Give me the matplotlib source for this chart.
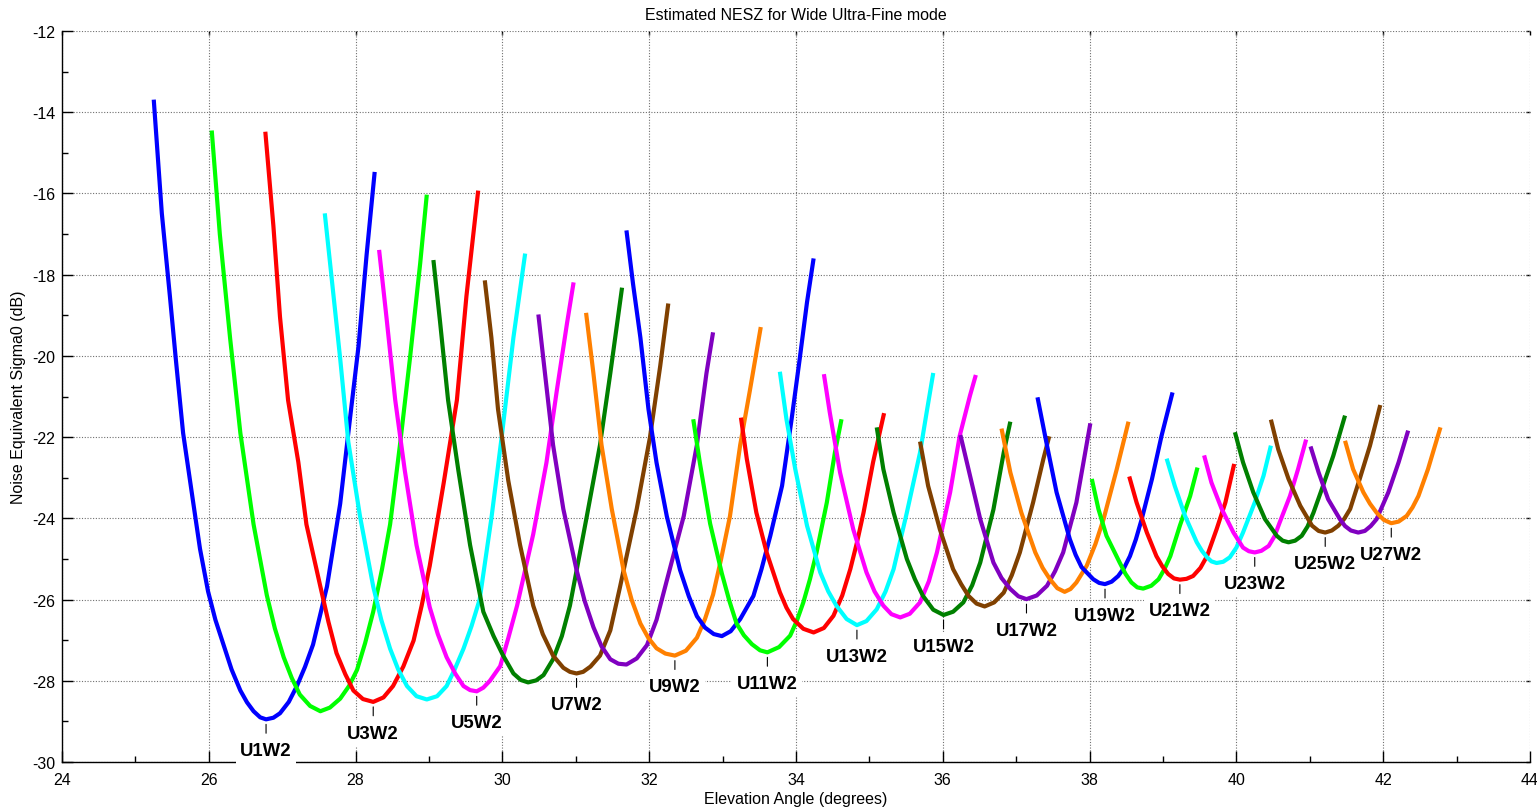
import matplotlib
matplotlib.use("Agg")
import matplotlib.pyplot as plt
from matplotlib.ticker import MultipleLocator

plt.rcParams["font.family"] = ["Liberation Sans", "DejaVu Sans"]
plt.rcParams["axes.unicode_minus"] = False

# ---- NESZ curves per beam: elevation angle (deg) and NESZ (dB) ----
U1_elev = [25.25, 25.36, 25.47, 25.55, 25.65, 25.79, 25.88, 25.99, 26.09, 26.20, 26.31, 26.43, 26.52, 26.61, 26.70, 26.78, 26.88, 26.97, 27.09, 27.20, 27.31, 27.42, 27.61, 27.79, 27.92, 28.04, 28.15, 28.26]
U1_nesz = [-13.69, -16.49, -18.53, -20.07, -21.90, -23.64, -24.75, -25.80, -26.50, -27.11, -27.72, -28.24, -28.53, -28.75, -28.90, -28.95, -28.91, -28.80, -28.52, -28.13, -27.66, -27.11, -25.68, -23.64, -21.60, -19.76, -17.51, -15.47]

U2_elev = [26.04, 26.15, 26.29, 26.43, 26.61, 26.79, 26.90, 27.02, 27.13, 27.24, 27.38, 27.52, 27.65, 27.79, 27.91, 28.02, 28.13, 28.24, 28.36, 28.47, 28.61, 28.74, 28.88, 28.97]
U2_nesz = [-14.45, -17.00, -19.56, -21.90, -24.15, -25.89, -26.71, -27.42, -27.93, -28.34, -28.62, -28.75, -28.66, -28.44, -28.13, -27.73, -27.07, -26.30, -25.25, -24.15, -22.11, -20.07, -17.72, -16.03]

U3_elev = [26.77, 26.88, 26.97, 27.08, 27.22, 27.33, 27.52, 27.63, 27.74, 27.86, 27.97, 28.10, 28.24, 28.38, 28.51, 28.65, 28.79, 28.90, 29.01, 29.20, 29.38, 29.51, 29.67]
U3_nesz = [-14.48, -16.80, -19.04, -21.09, -22.62, -24.15, -25.68, -26.55, -27.32, -27.84, -28.24, -28.45, -28.52, -28.41, -28.13, -27.65, -27.01, -26.15, -25.17, -23.13, -21.09, -18.53, -15.93]

U4_elev = [27.58, 27.67, 27.79, 27.90, 28.06, 28.24, 28.35, 28.47, 28.58, 28.70, 28.83, 28.97, 29.11, 29.24, 29.35, 29.47, 29.58, 29.69, 29.85, 29.99, 30.15, 30.31]
U4_nesz = [-16.49, -18.02, -20.07, -22.11, -23.95, -25.68, -26.50, -27.21, -27.72, -28.13, -28.38, -28.46, -28.38, -28.13, -27.72, -27.21, -26.65, -26.00, -24.00, -22.00, -19.55, -17.48]

U5_elev = [28.32, 28.42, 28.54, 28.67, 28.83, 29.01, 29.12, 29.24, 29.36, 29.47, 29.56, 29.65, 29.74, 29.83, 29.97, 30.08, 30.20, 30.42, 30.60, 30.74, 30.88, 30.97]
U5_nesz = [-17.39, -19.04, -21.09, -22.82, -24.66, -26.19, -26.85, -27.42, -27.83, -28.13, -28.23, -28.26, -28.17, -28.00, -27.64, -26.95, -26.15, -24.39, -22.63, -20.87, -19.20, -18.19]

U6_elev = [29.06, 29.15, 29.26, 29.40, 29.56, 29.74, 29.88, 30.01, 30.15, 30.25, 30.35, 30.46, 30.56, 30.69, 30.81, 30.92, 31.03, 31.15, 31.33, 31.47, 31.63]
U6_nesz = [-17.64, -19.15, -21.09, -22.82, -24.66, -26.30, -26.90, -27.38, -27.82, -27.98, -28.04, -27.99, -27.86, -27.47, -26.90, -26.15, -25.10, -23.95, -22.19, -20.43, -18.32]

U7_elev = [29.76, 29.85, 29.94, 30.08, 30.24, 30.42, 30.55, 30.69, 30.83, 30.92, 31.01, 31.10, 31.20, 31.33, 31.47, 31.60, 31.83, 32.01, 32.15, 32.26]
U7_nesz = [-18.14, -19.55, -21.31, -23.07, -24.65, -26.15, -26.85, -27.38, -27.68, -27.78, -27.82, -27.78, -27.65, -27.38, -26.76, -25.71, -23.77, -22.01, -20.25, -18.71]

U8_elev = [30.49, 30.58, 30.69, 30.83, 31.01, 31.12, 31.24, 31.35, 31.47, 31.58, 31.69, 31.83, 31.97, 32.10, 32.24, 32.47, 32.65, 32.78, 32.87]
U8_nesz = [-18.98, -20.43, -22.19, -23.77, -25.27, -26.03, -26.68, -27.15, -27.47, -27.58, -27.60, -27.45, -27.12, -26.50, -25.53, -23.95, -22.19, -20.43, -19.42]

U9_elev = [31.14, 31.24, 31.35, 31.49, 31.65, 31.76, 31.88, 31.99, 32.10, 32.22, 32.35, 32.50, 32.65, 32.76, 32.87, 32.98, 33.10, 33.24, 33.37, 33.52]
U9_nesz = [-18.94, -20.43, -22.19, -23.77, -25.27, -26.00, -26.59, -26.95, -27.20, -27.33, -27.38, -27.26, -26.94, -26.48, -25.88, -25.00, -23.95, -22.19, -20.87, -19.29]

U10_elev = [31.69, 31.78, 31.88, 31.99, 32.10, 32.24, 32.42, 32.54, 32.65, 32.76, 32.88, 32.99, 33.11, 33.24, 33.42, 33.53, 33.65, 33.81, 33.94, 34.05, 34.15, 34.24]
U10_nesz = [-16.91, -18.23, -19.55, -21.31, -22.63, -23.95, -25.27, -25.92, -26.41, -26.69, -26.85, -26.90, -26.78, -26.48, -25.91, -25.25, -24.43, -23.20, -21.56, -20.08, -18.68, -17.60]

U11_elev = [32.60, 32.69, 32.83, 32.99, 33.09, 33.19, 33.29, 33.40, 33.51, 33.61, 33.77, 33.92, 34.01, 34.10, 34.19, 34.28, 34.42, 34.53, 34.62]
U11_nesz = [-21.56, -22.63, -24.13, -25.36, -26.02, -26.59, -26.88, -27.10, -27.25, -27.30, -27.17, -26.89, -26.53, -26.07, -25.50, -24.84, -23.61, -22.38, -21.56]

U12_elev = [33.25, 33.33, 33.46, 33.60, 33.78, 33.87, 33.96, 34.10, 34.24, 34.38, 34.51, 34.63, 34.74, 34.83, 34.92, 35.05, 35.20]
U12_nesz = [-21.52, -22.54, -23.86, -24.84, -25.82, -26.20, -26.48, -26.72, -26.81, -26.70, -26.40, -25.90, -25.25, -24.60, -23.86, -22.62, -21.41]

U13_elev = [33.78, 33.87, 33.99, 34.15, 34.33, 34.44, 34.55, 34.69, 34.83, 34.96, 35.10, 35.22, 35.33, 35.51, 35.69, 35.78, 35.87]
U13_nesz = [-20.39, -21.56, -22.79, -24.18, -25.33, -25.80, -26.15, -26.48, -26.63, -26.53, -26.24, -25.80, -25.25, -23.86, -22.38, -21.39, -20.42]

U14_elev = [34.38, 34.46, 34.60, 34.78, 34.96, 35.07, 35.19, 35.30, 35.42, 35.55, 35.69, 35.81, 35.92, 36.10, 36.23, 36.37, 36.45]
U14_nesz = [-20.45, -21.39, -22.87, -24.27, -25.33, -25.80, -26.15, -26.36, -26.44, -26.35, -26.07, -25.55, -24.84, -23.36, -21.97, -20.98, -20.47]

U15_elev = [35.10, 35.19, 35.33, 35.51, 35.62, 35.73, 35.87, 36.01, 36.14, 36.28, 36.40, 36.51, 36.69, 36.83, 36.92]
U15_nesz = [-21.76, -22.79, -23.86, -25.00, -25.50, -25.91, -26.25, -26.38, -26.30, -26.07, -25.65, -25.09, -23.78, -22.38, -21.62]

U16_elev = [35.69, 35.80, 35.96, 36.14, 36.25, 36.35, 36.46, 36.57, 36.70, 36.83, 36.94, 37.05, 37.23, 37.37, 37.45]
U16_nesz = [-22.11, -23.20, -24.27, -25.25, -25.62, -25.91, -26.10, -26.17, -26.07, -25.83, -25.40, -24.84, -23.61, -22.54, -21.98]

U17_elev = [36.24, 36.35, 36.51, 36.69, 36.80, 36.92, 37.03, 37.14, 37.28, 37.42, 37.53, 37.64, 37.82, 37.94, 38.01]
U17_nesz = [-21.95, -22.79, -24.02, -25.09, -25.47, -25.74, -25.92, -25.99, -25.90, -25.66, -25.30, -24.84, -23.61, -22.38, -21.66]

U18_elev = [36.80, 36.92, 37.07, 37.26, 37.36, 37.46, 37.56, 37.66, 37.74, 37.82, 37.96, 38.08, 38.19, 38.37, 38.53]
U18_nesz = [-21.79, -22.87, -23.86, -24.84, -25.22, -25.50, -25.72, -25.81, -25.74, -25.58, -25.17, -24.63, -24.02, -22.79, -21.62]

U19_elev = [37.29, 37.42, 37.55, 37.73, 37.81, 37.89, 38.05, 38.13, 38.21, 38.30, 38.39, 38.47, 38.55, 38.63, 38.71, 38.85, 38.98, 39.13]
U19_nesz = [-21.02, -22.21, -23.36, -24.51, -24.90, -25.20, -25.50, -25.59, -25.62, -25.56, -25.42, -25.22, -24.93, -24.52, -24.02, -23.03, -21.97, -20.90]

U20_elev = [38.03, 38.12, 38.23, 38.41, 38.49, 38.57, 38.65, 38.73, 38.84, 38.94, 39.02, 39.10, 39.23, 39.37, 39.47]
U20_nesz = [-23.03, -23.77, -24.43, -25.09, -25.37, -25.58, -25.70, -25.73, -25.66, -25.50, -25.25, -24.93, -24.18, -23.45, -22.75]

U21_elev = [38.54, 38.64, 38.78, 38.91, 38.99, 39.07, 39.15, 39.23, 39.32, 39.41, 39.51, 39.60, 39.73, 39.85, 39.97]
U21_nesz = [-22.97, -23.61, -24.35, -24.93, -25.18, -25.37, -25.48, -25.51, -25.49, -25.42, -25.22, -24.93, -24.27, -23.61, -22.66]

U22_elev = [39.05, 39.16, 39.30, 39.46, 39.53, 39.60, 39.66, 39.73, 39.82, 39.91, 40.00, 40.09, 40.25, 40.37, 40.47]
U22_nesz = [-22.53, -23.20, -23.94, -24.59, -24.80, -24.96, -25.06, -25.10, -25.07, -24.96, -24.72, -24.35, -23.61, -22.95, -22.21]

U23_elev = [39.56, 39.66, 39.80, 39.96, 40.09, 40.17, 40.25, 40.34, 40.44, 40.52, 40.59, 40.73, 40.84, 40.95]
U23_nesz = [-22.45, -23.12, -23.77, -24.35, -24.72, -24.81, -24.84, -24.80, -24.68, -24.44, -24.10, -23.45, -22.79, -22.06]

U24_elev = [39.98, 40.09, 40.23, 40.39, 40.55, 40.63, 40.71, 40.80, 40.89, 40.97, 41.05, 41.18, 41.32, 41.48]
U24_nesz = [-21.88, -22.62, -23.36, -24.02, -24.43, -24.55, -24.59, -24.55, -24.43, -24.20, -23.86, -23.20, -22.46, -21.47]

U25_elev = [40.47, 40.57, 40.71, 40.87, 41.03, 41.12, 41.21, 41.30, 41.39, 41.47, 41.55, 41.68, 41.82, 41.96]
U25_nesz = [-21.57, -22.30, -23.03, -23.69, -24.18, -24.31, -24.35, -24.30, -24.18, -24.01, -23.77, -23.03, -22.21, -21.21]

U26_elev = [41.01, 41.12, 41.25, 41.41, 41.48, 41.56, 41.66, 41.75, 41.83, 41.91, 42.07, 42.21, 42.34]
U26_nesz = [-22.23, -22.87, -23.53, -24.02, -24.19, -24.30, -24.35, -24.31, -24.19, -24.02, -23.36, -22.62, -21.84]

U27_elev = [41.48, 41.59, 41.73, 41.82, 41.91, 42.01, 42.11, 42.21, 42.32, 42.40, 42.48, 42.61, 42.78]
U27_nesz = [-22.09, -22.79, -23.36, -23.64, -23.86, -24.04, -24.12, -24.08, -23.94, -23.73, -23.45, -22.79, -21.76]

beam_names = ["U%dW2" % i for i in range(1, 28)]
beam_elev = [U1_elev, U2_elev, U3_elev, U4_elev, U5_elev, U6_elev, U7_elev, U8_elev, U9_elev,
             U10_elev, U11_elev, U12_elev, U13_elev, U14_elev, U15_elev, U16_elev, U17_elev, U18_elev,
             U19_elev, U20_elev, U21_elev, U22_elev, U23_elev, U24_elev, U25_elev, U26_elev, U27_elev]
beam_nesz = [U1_nesz, U2_nesz, U3_nesz, U4_nesz, U5_nesz, U6_nesz, U7_nesz, U8_nesz, U9_nesz,
             U10_nesz, U11_nesz, U12_nesz, U13_nesz, U14_nesz, U15_nesz, U16_nesz, U17_nesz, U18_nesz,
             U19_nesz, U20_nesz, U21_nesz, U22_nesz, U23_nesz, U24_nesz, U25_nesz, U26_nesz, U27_nesz]

# colour cycle repeats every nine beams
palette = ["#0000ff", "#00ff00", "#ff0000", "#00ffff", "#ff00ff",
           "#008000", "#804000", "#8000c0", "#ff8000"]

x_ticks = [24, 26, 28, 30, 32, 34, 36, 38, 40, 42, 44]
y_ticks = [-30, -28, -26, -24, -22, -20, -18, -16, -14, -12]

W, H = 1537, 812
fig = plt.figure(figsize=(W / 100, H / 100), dpi=100)
ax = fig.add_axes([62 / W, 1 - 763 / H, (1530 - 62) / W, (763 - 32) / H])

for i, (ex, nz) in enumerate(zip(beam_elev, beam_nesz)):
    ax.plot(ex, nz, color=palette[i % len(palette)], lw=3.0, solid_joinstyle="round",
            solid_capstyle="butt", zorder=3)

# label every odd beam under its minimum with a short leader
for i in range(0, 27, 2):
    ex, nz = beam_elev[i], beam_nesz[i]
    k = nz.index(min(nz))
    xm, ym = ex[k], nz[k]
    ax.annotate("", xy=(xm, ym), xytext=(0, -10), textcoords="offset points",
                arrowprops=dict(arrowstyle="-", color="black", lw=0.8,
                                shrinkA=0, shrinkB=3.6), zorder=6)
    ax.annotate(beam_names[i], xy=(xm, ym), xytext=(0, -25.7), textcoords="offset points",
                ha="center", va="baseline", fontsize=13.4, fontweight="bold",
                bbox=dict(boxstyle="square,pad=0.24", fc="white", ec="none"),
                zorder=7, annotation_clip=False)

ax.set_xlim(24, 44)
ax.set_ylim(-30, -12)
ax.set_xticks(x_ticks)
ax.set_yticks(y_ticks)
ax.xaxis.set_minor_locator(MultipleLocator(1))
ax.yaxis.set_minor_locator(MultipleLocator(1))

ax.grid(True, which="major", color="#707070", linestyle=(0, (1, 1.5)), lw=0.8, zorder=0)
ax.set_axisbelow(True)

for side in ("top", "right"):
    ax.spines[side].set_visible(False)
for side in ("left", "bottom"):
    ax.spines[side].set_linewidth(1.0)
    ax.spines[side].set_color("black")

ax.tick_params(which="major", direction="in", length=8, width=1.0, labelsize=11.5, pad=5)
ax.tick_params(which="minor", direction="in", length=4, width=1.0)
ax.tick_params(axis="x", which="major", pad=7)
# short marks along the open top and right edges
ax_top = ax.secondary_xaxis("top")
ax_top.set_xticks(x_ticks)
ax_top.tick_params(direction="in", length=3, width=1.0, labeltop=False)
ax_top.spines["top"].set_visible(False)
ax_right = ax.secondary_yaxis("right")
ax_right.set_yticks(y_ticks)
ax_right.tick_params(direction="in", length=3, width=1.0, labelright=False)
ax_right.spines["right"].set_visible(False)

ax.set_xlabel("Elevation Angle (degrees)", fontsize=11.5, labelpad=3)
ax.set_ylabel("Noise Equivalent Sigma0 (dB)", fontsize=11.5, labelpad=4)
ax.set_title("Estimated NESZ for Wide Ultra-Fine mode", fontsize=11.5, pad=9)

fig.savefig("out.png", dpi=100, facecolor="white")
